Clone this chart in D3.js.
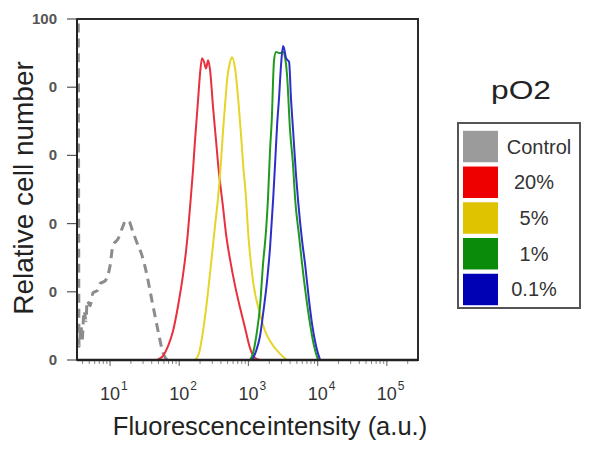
<!DOCTYPE html>
<html>
<head>
<meta charset="utf-8">
<script src="https://cdn.jsdelivr.net/npm/d3@7"></script>
<style>
  html, body { margin: 0; padding: 0; background: #fff; }
  svg { display: block; }
  text { font-family: "Liberation Sans", Arial, sans-serif; }
</style>
</head>
<body>
<svg id="chart" width="596" height="450"></svg>
<script>
// ---- data ----
// x = fluorescence intensity (a.u.), y = relative cell number (%)
const controlX = [3.2, 3.45, 3.56, 3.81, 3.94, 4.21, 4.50, 4.66, 5.14, 5.68, 6.49, 7.16, 8.47, 10.0, 11.0, 13.1, 14.9, 17.0, 18.8, 21.5, 24.5, 29.0, 34.3, 39.1, 44.7, 51.1, 58.3, 68.9, 79.4];
const controlY = [125, 120, 4, 10, 5.6, 14.4, 11.5, 17.4, 15.9, 19.7, 20.3, 22.4, 23.2, 27.6, 33.5, 35.6, 38.5, 40.9, 40.6, 37.4, 34.4, 30.6, 24.7, 18.8, 12.9, 7.1, 2.1, 0, 0];

const redX = [47.8, 58.3, 68.9, 81.3, 96.2, 114, 130, 143, 158, 169, 187, 200, 213, 228, 244, 261, 279, 308, 340, 364, 430, 474, 542, 640, 757, 893, 1054, 1245, 1472];
const redY = [0, 1.2, 4.1, 8.5, 15.9, 25.3, 35, 44.7, 55.6, 64.4, 76.2, 84.1, 88.5, 87.4, 85.5, 87.9, 85, 74.1, 64.4, 57.5, 44.7, 37, 29.5, 21.8, 15.3, 9.4, 3.5, 0.6, 0];

const yellowX = [169, 193, 221, 252, 288, 329, 364, 402, 430, 459, 491, 542, 579, 640, 708, 782, 836, 923, 986, 1164, 1472, 1738, 2051, 2864, 3614];
const yellowY = [0, 2, 8.5, 17.4, 28.2, 39.4, 47.6, 58.5, 67.4, 74.7, 82, 87.4, 88.8, 85.6, 77, 65.9, 57.6, 47.4, 37.9, 23.2, 13.5, 8.5, 5.6, 1.8, 0];

const greenX = [1054, 1164, 1330, 1472, 1626, 1795, 1919, 2051, 2193, 2270, 2344, 2506, 2864, 3162, 3381, 3614, 3990, 4416, 4710, 5383, 5957, 6792, 7762, 8872, 10140];
const greenY = [0, 2, 8.5, 15.9, 28.2, 37.9, 47.6, 61.5, 72.4, 82, 87.9, 90.3, 90, 90.3, 88.8, 83.5, 67.4, 57.1, 47.6, 36.5, 28.2, 18.8, 10.6, 4.1, 0];

const blueX = [1127, 1288, 1472, 1626, 1858, 2051, 2270, 2427, 2594, 2773, 2958, 3162, 3266, 3491, 3864, 4130, 4416, 4875, 5212, 5957, 6577, 7516, 8299, 9484, 10840];
const blueY = [0, 2.6, 7.1, 13.5, 23.2, 32.9, 46.8, 57.6, 68.8, 77.1, 86.5, 92.1, 91.5, 88.5, 87.4, 76.2, 67.4, 54.1, 46.8, 35, 28.2, 17.4, 10.6, 4.1, 0];

const seriesNames = ["Control", "20%", "5%", "1%", "0.1%"];
const xTickValues = [10, 100, 1000, 10000, 100000];
const xTickExponents = ["1", "2", "3", "4", "5"];
const yTickValues = [0, 20, 40, 60, 80, 100];
const yTickLabels = ["0", "0", "0", "0", "0", "100"];
const xDomain = [3.33, 282000];
const yDomain = [0, 100];

// ---- styles ----
const lineColors = ["#8c8c8c", "#e8303e", "#e6d428", "#1f9a1f", "#2e2ec8"];
const swatchColors = ["#9b9b9b", "#ee0000", "#dfc300", "#0a8c0a", "#0000b4"];

const svg = d3.select("#chart");
svg.append("rect").attr("width", 596).attr("height", 450).attr("fill", "#fff");

const L = 77, R = 418, T = 19, B = 360;
const x = d3.scaleLog().domain(xDomain).range([L, R]);
const y = d3.scaleLinear().domain(yDomain).range([B, T]);

svg.append("defs").append("clipPath").attr("id", "plotclip")
  .append("rect").attr("x", L).attr("y", T).attr("width", R - L).attr("height", B - T);

// frame
svg.append("rect").attr("x", L).attr("y", T).attr("width", R - L).attr("height", B - T)
  .attr("fill", "none").attr("stroke", "#2a2a2a").attr("stroke-width", 2);

// x axis ticks (major + minor)
const minor = [];
for (let d = 1; d <= 100000; d *= 10) {
  for (let m = 2; m <= 9; m++) {
    const v = d * m;
    if (v > xDomain[0] && v < xDomain[1]) minor.push(v);
  }
}
svg.append("g").selectAll("line.minor").data(minor).join("line")
  .attr("x1", d => x(d)).attr("x2", d => x(d))
  .attr("y1", B).attr("y2", B + 4)
  .attr("stroke", "#888").attr("stroke-width", 1);
svg.append("g").selectAll("line.major").data(xTickValues).join("line")
  .attr("x1", d => x(d)).attr("x2", d => x(d))
  .attr("y1", B).attr("y2", B + 6)
  .attr("stroke", "#777").attr("stroke-width", 1.2);

const xl = svg.append("g").selectAll("text").data(xTickValues).join("text")
  .attr("x", d => x(d) - 10).attr("y", 400)
  .attr("font-size", 18).attr("fill", "#333");
xl.append("tspan").text("10");
xl.append("tspan").attr("font-size", 12).attr("dy", -10).attr("dx", 1)
  .text((d, i) => xTickExponents[i]);

// y axis ticks
svg.append("g").selectAll("line").data(yTickValues).join("line")
  .attr("x1", L - 10).attr("x2", L)
  .attr("y1", d => y(d)).attr("y2", d => y(d))
  .attr("stroke", "#555").attr("stroke-width", 1.2);
svg.append("g").selectAll("text").data(yTickValues).join("text")
  .attr("x", 57).attr("y", d => y(d) + 5)
  .attr("text-anchor", "end").attr("font-size", 15).attr("font-weight", "bold")
  .attr("fill", "#555")
  .text((d, i) => yTickLabels[i]);

// curves
const line = d3.line().x(d => x(d[0])).y(d => y(d[1])).curve(d3.curveMonotoneX);
const series = [
  d3.zip(controlX, controlY),
  d3.zip(redX, redY),
  d3.zip(yellowX, yellowY),
  d3.zip(greenX, greenY),
  d3.zip(blueX, blueY)
];
const g = svg.append("g").attr("clip-path", "url(#plotclip)");
series.forEach((s, i) => {
  g.append("path").datum(s)
    .attr("d", line)
    .attr("fill", "none")
    .attr("stroke", lineColors[i])
    .attr("stroke-width", i === 0 ? 3 : 2)
    .attr("stroke-dasharray", i === 0 ? "9,6" : null)
    .attr("stroke-linejoin", "round");
});

// left & bottom axis lines on top
svg.append("line").attr("x1", L).attr("x2", L).attr("y1", T).attr("y2", B)
  .attr("stroke", "#222").attr("stroke-width", 2);
svg.append("line").attr("x1", L).attr("x2", R).attr("y1", B).attr("y2", B)
  .attr("stroke", "#222").attr("stroke-width", 2.5);

// axis titles
svg.append("text")
  .attr("transform", "translate(33,188) rotate(-90)")
  .attr("text-anchor", "middle").attr("font-size", 28).attr("fill", "#222")
  .text("Relative cell number");
const xt = svg.append("text")
  .attr("x", 270).attr("y", 435)
  .attr("text-anchor", "middle").attr("font-size", 25.5).attr("fill", "#222");
xt.append("tspan").text("Fluorescence ");
xt.append("tspan").attr("dx", -6).text("intensity (a.u.)");

// legend
svg.append("text").attr("x", 521).attr("y", 99)
  .attr("text-anchor", "middle").attr("font-size", 25).attr("fill", "#222")
  .attr("textLength", 60).attr("lengthAdjust", "spacingAndGlyphs")
  .text("pO2");
svg.append("rect").attr("x", 458).attr("y", 123).attr("width", 122).attr("height", 185)
  .attr("fill", "#fff").attr("stroke", "#555").attr("stroke-width", 2);
const ly = d3.scaleBand().domain(seriesNames).range([129, 307]).paddingInner(0.12).paddingOuter(0.05);
const lg = svg.append("g").selectAll("g").data(seriesNames).join("g");
lg.append("rect")
  .attr("x", 463).attr("y", d => ly(d)).attr("width", 35).attr("height", ly.bandwidth())
  .attr("fill", (d, i) => swatchColors[i]);
lg.append("text")
  .attr("x", (d, i) => i === 0 ? 539 : 534)
  .attr("y", d => ly(d) + ly.bandwidth() / 2 + 7)
  .attr("text-anchor", "middle").attr("font-size", 20).attr("fill", "#333")
  .text(d => d);
</script>
</body>
</html>
